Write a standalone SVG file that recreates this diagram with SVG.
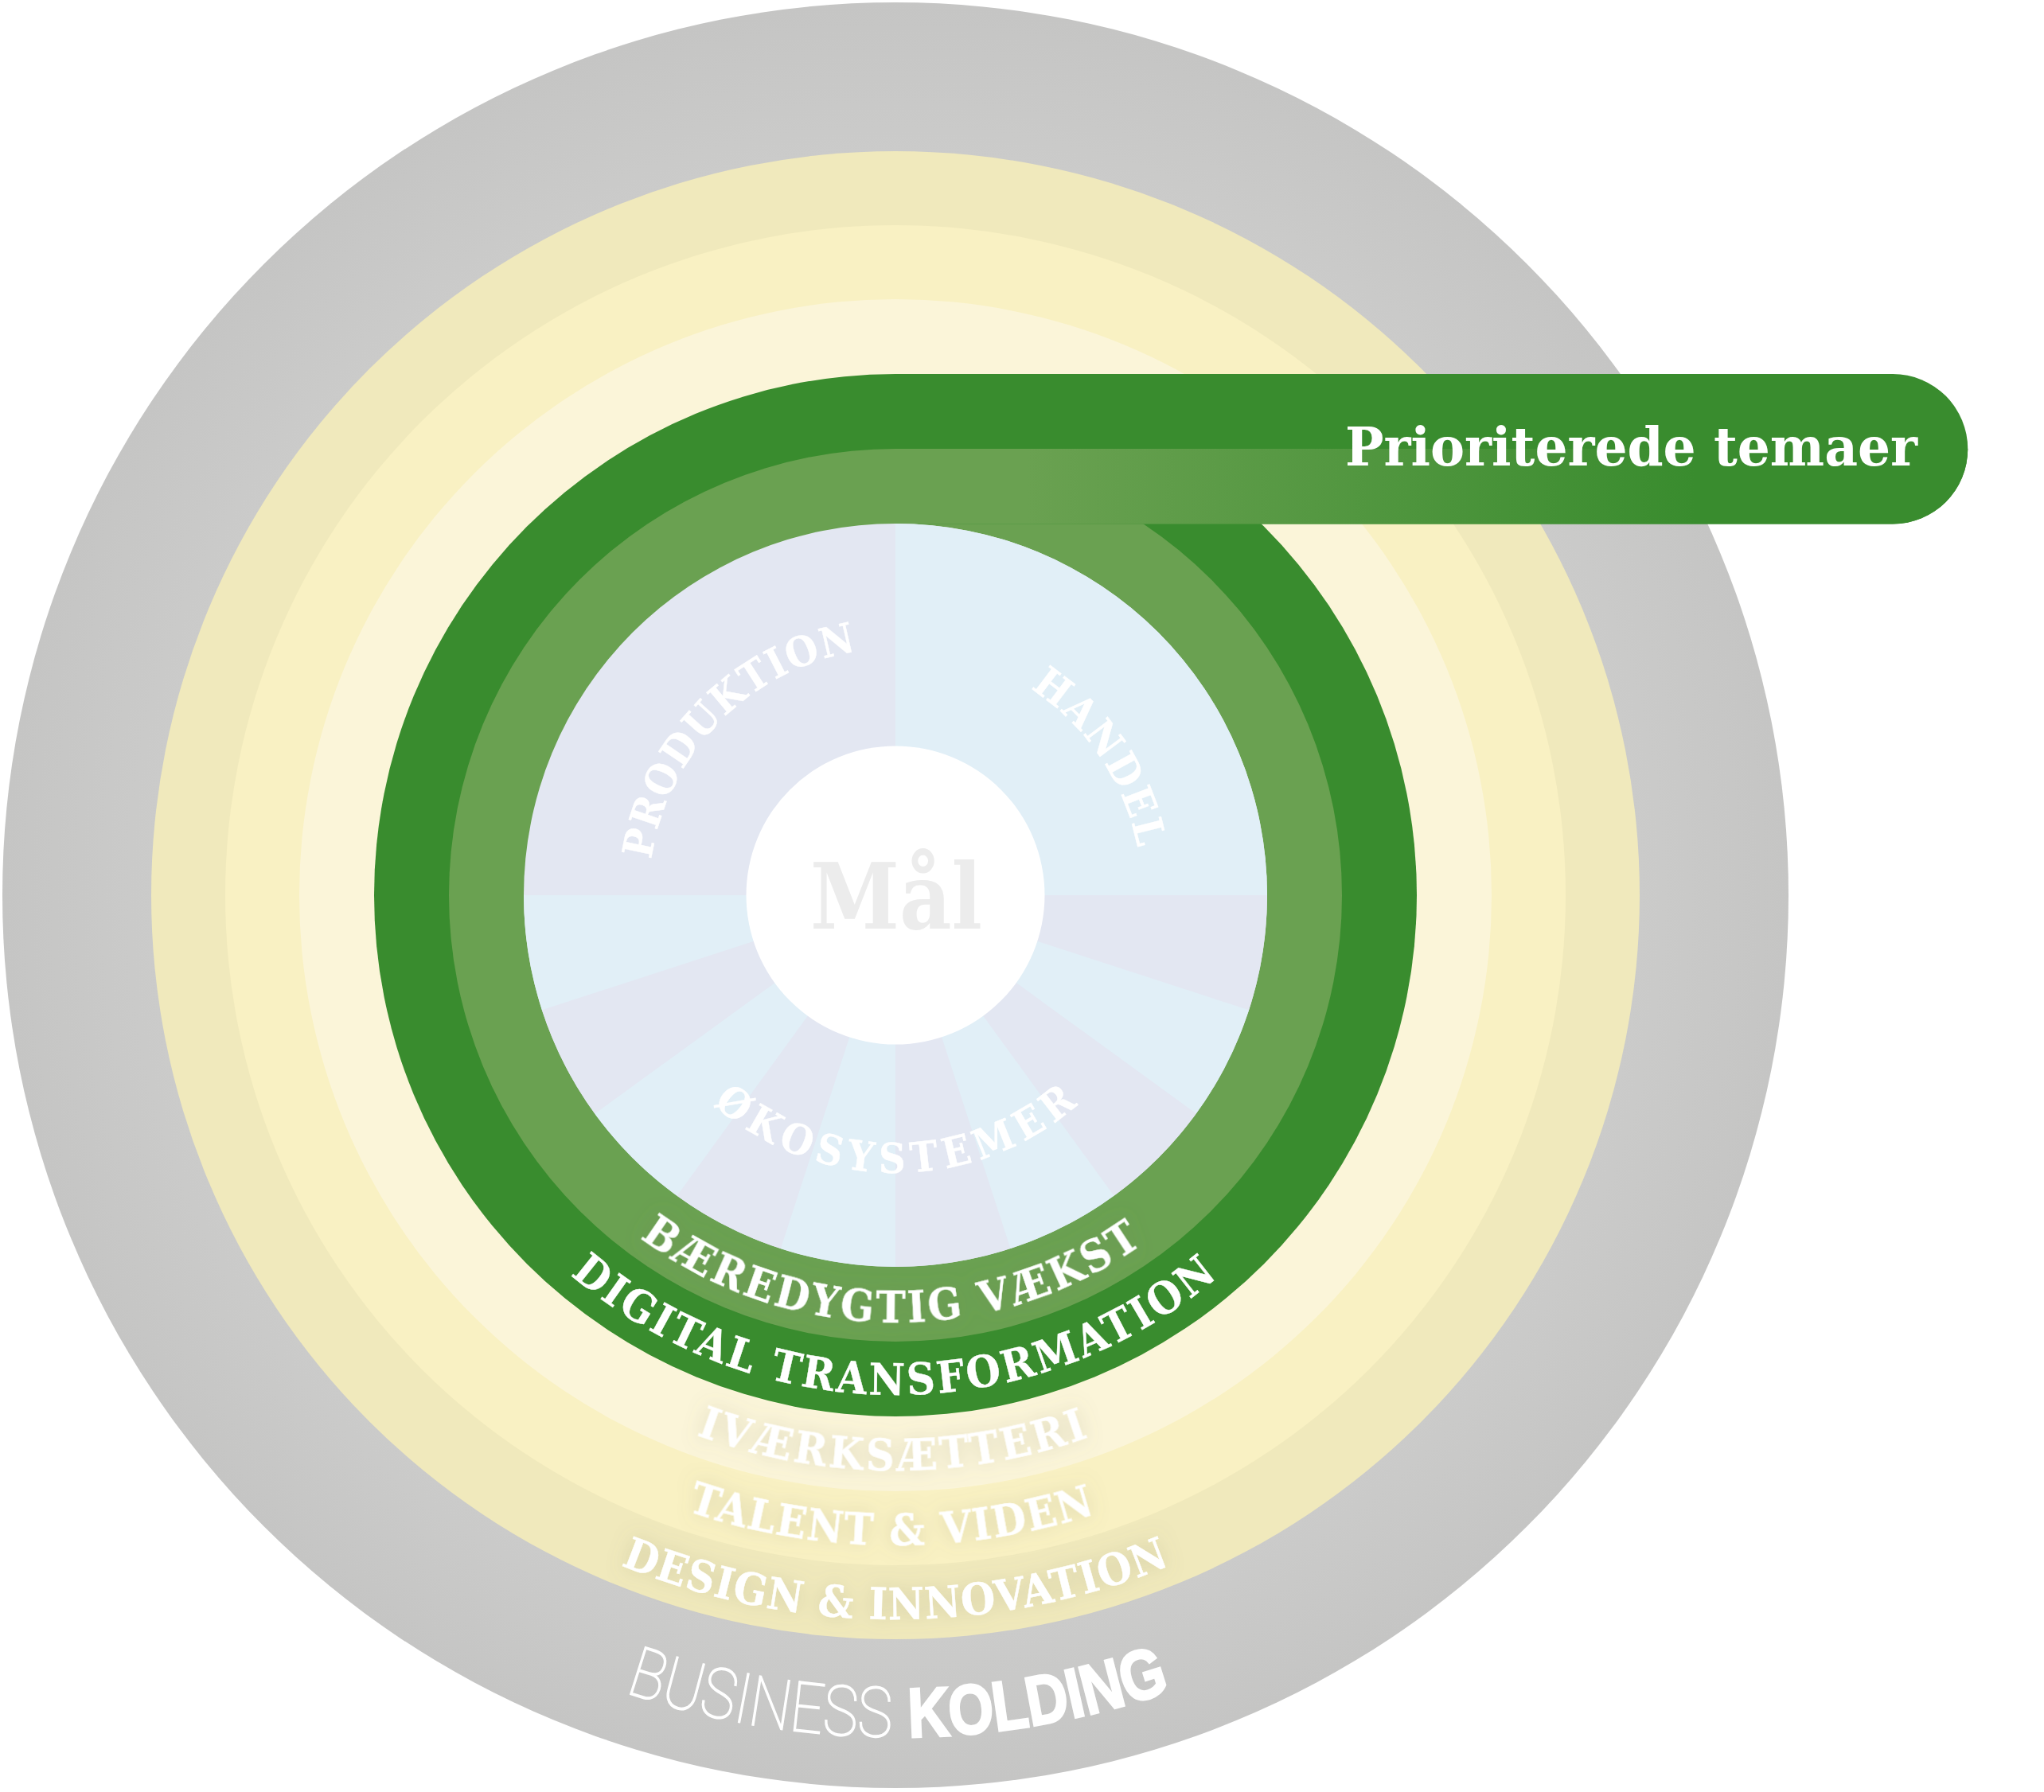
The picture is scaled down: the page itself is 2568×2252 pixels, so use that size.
<svg xmlns="http://www.w3.org/2000/svg" xmlns:xlink="http://www.w3.org/1999/xlink" width="2568" height="2252" viewBox="0 0 2568 2252">
<style>
.c{font-family:"DejaVu Serif Condensed","DejaVu Serif",serif;font-weight:700;fill:#fff;stroke:#fff;stroke-width:.4;text-anchor:middle}
.s{filter:url(#glow)}
.b{font-family:"Roboto","Liberation Sans",sans-serif;font-weight:100;font-size:88px;fill:#fff;stroke:#fff;stroke-width:1.5;text-anchor:middle}
.k{font-family:"Liberation Sans Narrow","Liberation Sans",sans-serif;font-weight:700;font-size:88px;fill:#fff;stroke:#fff;stroke-width:3;text-anchor:middle}
.lav{fill:#e3e7f2}
.blu{fill:#e1eff7}
</style>
<defs>
<linearGradient id="band" gradientUnits="userSpaceOnUse" x1="1290" y1="0" x2="2130" y2="0"><stop offset="0" stop-color="#6aa151"/><stop offset="1" stop-color="#398c2e"/></linearGradient>
<radialGradient id="grey" gradientUnits="userSpaceOnUse" cx="1125" cy="1125" r="1122"><stop offset=".83" stop-color="#cbcbca"/><stop offset="1" stop-color="#c5c5c4"/></radialGradient>
<filter id="glow" x="-20%" y="-40%" width="140%" height="180%"><feDropShadow dx="0" dy="0" stdDeviation="12" flood-color="#7a7a60" flood-opacity=".25"/></filter>
<path id="r537" d="M588 1125A537 537 0 0 0 1662 1125"/>
<path id="r628" d="M497 1125A628 628 0 0 0 1753 1125"/>
<path id="r723" d="M402 1125A723 723 0 0 0 1848 1125"/>
<path id="r817" d="M308 1125A817 817 0 0 0 1942 1125"/>
<path id="r910" d="M215 1125A910 910 0 0 0 2035 1125"/>
<path id="r1058" d="M67 1125A1058 1058 0 0 0 2183 1125"/>
<path id="r349" d="M776 1125A349 349 0 0 0 1474 1125"/>
<path id="t310" d="M815 1125A310 310 0 0 1 1435 1125"/>
</defs>
<g id="ring-business-kolding"><circle cx="1125" cy="1125" r="1122" fill="url(#grey)"/></g>
<g id="ring-design"><circle cx="1125" cy="1125" r="935" fill="#f0e9bc"/></g>
<g id="ring-talent"><circle cx="1125" cy="1125" r="842" fill="#f9f1c3"/></g>
<g id="ring-ivaerksaetteri"><circle cx="1125" cy="1125" r="749" fill="#fbf5d9"/></g>
<g id="ring-digital"><circle cx="1125" cy="1125" r="655" fill="#398c2e"/></g>
<g id="ring-baeredygtig"><circle cx="1125" cy="1125" r="561" fill="#6aa151"/></g>
<g id="banner">
<path d="M1125 470H2378A94.25 94.25 0 0 1 2378 658.5H1125Z" fill="#398c2e"/>
<path d="M1125 564H2472.2A94.25 94.25 0 0 1 2378 658.5H1125Z" fill="url(#band)"/>
<text x="1690" y="585" font-family="'DejaVu Serif Condensed','DejaVu Serif',serif" font-weight="700" font-size="68" fill="#fff" textLength="719" lengthAdjust="spacingAndGlyphs">Prioriterede temaer</text>
</g>
<g id="wheel">
<circle cx="1125" cy="1125" r="467" class="lav"/>
<path class="blu" d="M1125 1125V658A467 467 0 0 1 1592 1125Z"/>
<path class="lav" d="M1125 1125H1592A467 467 0 0 1 1569.1 1269.3Z"/>
<path class="blu" d="M1125 1125L1569.1 1269.3A467 467 0 0 1 1502.8 1399.5Z"/>
<path class="lav" d="M1125 1125L1502.8 1399.5A467 467 0 0 1 1399.5 1502.8Z"/>
<path class="blu" d="M1125 1125L1399.5 1502.8A467 467 0 0 1 1269.3 1569.1Z"/>
<path class="lav" d="M1125 1125L1269.3 1569.1A467 467 0 0 1 1125 1592Z"/>
<path class="blu" d="M1125 1125V1592A467 467 0 0 1 980.7 1569.1Z"/>
<path class="lav" d="M1125 1125L980.7 1569.1A467 467 0 0 1 850.5 1502.8Z"/>
<path class="blu" d="M1125 1125L850.5 1502.8A467 467 0 0 1 747.2 1399.5Z"/>
<path class="lav" d="M1125 1125L747.2 1399.5A467 467 0 0 1 680.9 1269.3Z"/>
<path class="blu" d="M1125 1125L680.9 1269.3A467 467 0 0 1 658 1125Z"/>
</g>
<g id="goal"><circle cx="1125" cy="1125" r="187.5" fill="#fff"/>
<text x="1018" y="1167" font-family="'DejaVu Serif Condensed','DejaVu Serif',serif" font-weight="700" font-size="114" fill="#ececec" textLength="216" lengthAdjust="spacingAndGlyphs">Mål</text></g>
<g id="label-produktion"><text class="c" font-size="52" transform="rotate(-45.4 1125 1125)"><textPath xlink:href="#t310" href="#t310" startOffset="50%" textLength="393">PRODUKTION</textPath></text></g>
<g id="label-handel"><text class="c" font-size="52" transform="rotate(56 1125 1125)"><textPath xlink:href="#t310" href="#t310" startOffset="50%" textLength="248">HANDEL</textPath></text></g>
<g id="label-okosystemer"><text class="c" font-size="52"><textPath xlink:href="#r349" href="#r349" startOffset="50%" textLength="500">ØKOSYSTEMER</textPath></text></g>
<g id="label-baeredygtig"><text class="c s" font-size="55" transform="rotate(.7 1125 1125)"><textPath xlink:href="#r537" href="#r537" startOffset="50%" textLength="675">BÆREDYGTIG VÆKST</textPath></text></g>
<g id="label-digital"><text class="c" font-size="55" transform="rotate(.2 1125 1125)"><textPath xlink:href="#r628" href="#r628" startOffset="50%" textLength="885">DIGITAL TRANSFORMATION</textPath></text></g>
<g id="label-ivaerk"><text class="c s" font-size="55" transform="rotate(.3 1125 1125)"><textPath xlink:href="#r723" href="#r723" startOffset="50%" textLength="503">IVÆRKSÆTTERI</textPath></text></g>
<g id="label-talent"><text class="c s" font-size="55" transform="rotate(.4 1125 1125)"><textPath xlink:href="#r817" href="#r817" startOffset="50%" textLength="522">TALENT &amp; VIDEN</textPath></text></g>
<g id="label-design"><text class="c s" font-size="55"><textPath xlink:href="#r910" href="#r910" startOffset="50%" textLength="708">DESIGN &amp; INNOVATION</textPath></text></g>
<g id="label-business"><text class="b" transform="rotate(9.5 1125 1125)"><textPath xlink:href="#r1058" href="#r1058" startOffset="50%" textLength="342" lengthAdjust="spacingAndGlyphs">BUSINESS</textPath></text>
<text class="k" transform="rotate(-10 1125 1125)"><textPath xlink:href="#r1058" href="#r1058" startOffset="50%" textLength="336" lengthAdjust="spacingAndGlyphs">KOLDING</textPath></text></g>
<g id="connectors"/>
</svg>
